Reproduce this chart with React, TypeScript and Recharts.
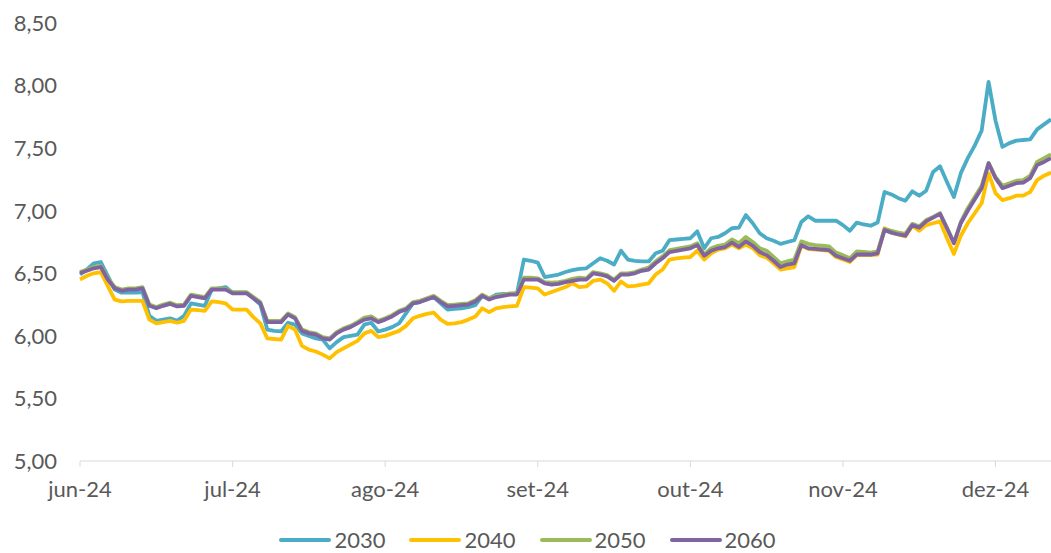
import { LineChart, Line, XAxis, YAxis, Legend } from 'recharts';

// month labels shown on the x axis (one every 22 business days)
const monthLabels = ['jun-24', 'jul-24', 'ago-24', 'set-24', 'out-24', 'nov-24', 'dez-24'];
const monthTicks = [0, 22, 44, 66, 88, 110, 132];
const yTicks = [5, 5.5, 6, 6.5, 7, 7.5, 8, 8.5];

const s2030 = [
  6.49, 6.53, 6.58, 6.59, 6.48, 6.37, 6.345, 6.345, 6.345, 6.35,
  6.16, 6.12, 6.13, 6.14, 6.12, 6.16, 6.26, 6.25, 6.24, 6.37,
  6.38, 6.39, 6.345, 6.345, 6.345, 6.3, 6.25, 6.05, 6.04, 6.035,
  6.105, 6.09, 6.02, 6.0, 5.98, 5.97, 5.9, 5.95, 5.99, 6.0,
  6.01, 6.09, 6.105, 6.035, 6.05, 6.07, 6.1, 6.18, 6.26, 6.27,
  6.29, 6.31, 6.26, 6.21, 6.215, 6.22, 6.23, 6.245, 6.32, 6.3,
  6.33, 6.335, 6.335, 6.34, 6.61, 6.6, 6.585, 6.47, 6.48, 6.49,
  6.51, 6.525, 6.535, 6.54, 6.58, 6.62, 6.6, 6.57, 6.68, 6.61,
  6.6, 6.595, 6.595, 6.66, 6.68, 6.765, 6.77, 6.775, 6.78, 6.835,
  6.7, 6.78, 6.79, 6.82, 6.86, 6.865, 6.965, 6.9, 6.82, 6.78,
  6.76, 6.735, 6.75, 6.765, 6.91, 6.955, 6.92, 6.92, 6.92, 6.92,
  6.885, 6.84, 6.905, 6.89, 6.88, 6.905, 7.15, 7.13, 7.1, 7.08,
  7.155, 7.12, 7.16, 7.31, 7.355, 7.23, 7.11, 7.3, 7.42, 7.52,
  7.64, 8.03, 7.72, 7.51, 7.54, 7.56, 7.565, 7.57, 7.65, 7.69,
  7.73,
];

const s2040 = [
  6.45, 6.48, 6.5, 6.51, 6.4, 6.29, 6.275, 6.28, 6.28, 6.28,
  6.13, 6.1, 6.11, 6.12, 6.105, 6.12, 6.21, 6.205, 6.2, 6.275,
  6.27, 6.26, 6.21, 6.21, 6.21, 6.15, 6.1, 5.98, 5.975, 5.97,
  6.08, 6.05, 5.92, 5.89, 5.875, 5.85, 5.82, 5.87, 5.9, 5.93,
  5.96, 6.02, 6.04, 5.99, 6.0, 6.02, 6.04, 6.08, 6.14, 6.16,
  6.175, 6.185, 6.13, 6.095, 6.1, 6.11, 6.13, 6.155, 6.22, 6.19,
  6.22, 6.23, 6.235, 6.24, 6.39, 6.385, 6.38, 6.33, 6.35, 6.37,
  6.39, 6.42, 6.39, 6.395, 6.44, 6.45, 6.42, 6.36, 6.435, 6.395,
  6.4, 6.41, 6.42, 6.49, 6.53, 6.61, 6.62, 6.625, 6.63, 6.68,
  6.61, 6.66, 6.69, 6.7, 6.73, 6.7, 6.73, 6.7, 6.645, 6.625,
  6.58, 6.53, 6.54, 6.55, 6.72, 6.695, 6.69, 6.685, 6.68, 6.63,
  6.61, 6.59, 6.645, 6.645, 6.645, 6.65, 6.86, 6.825, 6.81, 6.795,
  6.88, 6.84, 6.885, 6.9, 6.915, 6.78, 6.655, 6.8, 6.9, 6.98,
  7.06, 7.3, 7.14, 7.085, 7.1, 7.12, 7.12, 7.15, 7.245, 7.28,
  7.305,
];

const s2050 = [
  6.51, 6.53, 6.55, 6.56, 6.46, 6.39, 6.37, 6.38, 6.38, 6.39,
  6.25, 6.23, 6.25, 6.265, 6.245, 6.25, 6.33, 6.32, 6.31, 6.38,
  6.38, 6.375, 6.35, 6.35, 6.35, 6.31, 6.27, 6.12, 6.12, 6.12,
  6.18, 6.15, 6.05, 6.03, 6.02, 5.99, 5.98, 6.03, 6.06, 6.08,
  6.11, 6.145, 6.155, 6.12, 6.14, 6.165, 6.2, 6.22, 6.27, 6.28,
  6.3, 6.32, 6.28, 6.245, 6.25, 6.255, 6.26, 6.285, 6.33, 6.3,
  6.32, 6.33, 6.34, 6.34, 6.465, 6.465, 6.46, 6.43, 6.425, 6.43,
  6.44, 6.455, 6.465, 6.46, 6.51, 6.5, 6.485, 6.45, 6.5, 6.5,
  6.51, 6.53, 6.545, 6.595, 6.635, 6.685, 6.695, 6.705, 6.715, 6.74,
  6.65, 6.7, 6.72, 6.73, 6.77, 6.74, 6.79, 6.75, 6.7, 6.68,
  6.63, 6.58, 6.595, 6.61, 6.755, 6.735, 6.725, 6.72, 6.715, 6.665,
  6.645, 6.62, 6.675, 6.67, 6.665, 6.675, 6.855, 6.84, 6.825, 6.815,
  6.895, 6.875, 6.925, 6.95, 6.98, 6.865, 6.745, 6.91, 7.02, 7.11,
  7.2, 7.38, 7.27, 7.2, 7.22, 7.24, 7.245, 7.28, 7.39, 7.42,
  7.45,
];

const s2060 = [
  6.5, 6.52, 6.54, 6.55, 6.45, 6.38, 6.36, 6.37, 6.37, 6.38,
  6.24, 6.22, 6.24, 6.255, 6.235, 6.24, 6.32, 6.31, 6.3, 6.37,
  6.37, 6.37, 6.34, 6.34, 6.34, 6.3, 6.26, 6.11, 6.11, 6.11,
  6.17, 6.14, 6.04, 6.02, 6.01, 5.98, 5.97, 6.02, 6.05, 6.07,
  6.1, 6.13, 6.14, 6.11, 6.13, 6.155, 6.19, 6.21, 6.26, 6.27,
  6.29, 6.31, 6.27, 6.235, 6.24, 6.245, 6.25, 6.275, 6.32, 6.29,
  6.31, 6.32, 6.33, 6.33, 6.45, 6.45, 6.45, 6.42, 6.41, 6.415,
  6.43, 6.44, 6.45, 6.45, 6.5, 6.49, 6.475, 6.44, 6.49, 6.49,
  6.5, 6.52, 6.53, 6.58, 6.62, 6.67, 6.68, 6.69, 6.7, 6.725,
  6.64, 6.68, 6.7, 6.71, 6.745, 6.71, 6.755, 6.72, 6.67, 6.645,
  6.6, 6.55, 6.57, 6.58, 6.725, 6.7, 6.695, 6.69, 6.685, 6.64,
  6.62, 6.6, 6.65, 6.65, 6.65, 6.66, 6.845, 6.825, 6.81, 6.8,
  6.885, 6.865, 6.915, 6.945, 6.975, 6.86, 6.74, 6.9, 7.0, 7.09,
  7.18, 7.38, 7.26, 7.18, 7.2, 7.22, 7.225, 7.26, 7.365, 7.39,
  7.42,
];

const series = [
  { key: '2030', color: '#4BACC6' },
  { key: '2040', color: '#FFC000' },
  { key: '2050', color: '#9BBB59' },
  { key: '2060', color: '#8064A2' },
];

const data = s2030.map((v, i) => ({
  i,
  '2030': v,
  '2040': s2040[i],
  '2050': s2050[i],
  '2060': s2060[i],
}));

const FONT = 'Lato, "Open Sans", sans-serif';
const TEXT = '#595959';

const LegendContent = () => (
  <div style={{ display: 'flex', justifyContent: 'center', paddingTop: 18, paddingLeft: 28, fontFamily: FONT, lineHeight: 1 }}>
    {series.map((s) => (
      <div key={s.key} style={{ display: 'flex', alignItems: 'center', marginRight: 24 }}>
        <div style={{ width: 52, height: 4, borderRadius: 2, background: s.color, marginRight: 3 }} />
        <span style={{ fontSize: 22, color: TEXT }}>{s.key}</span>
      </div>
    ))}
  </div>
);

export default function App() {
  return (
    <div style={{ position: 'absolute', left: 0, top: 0, background: '#fff' }}>
      <LineChart width={1051} height={553} data={data} margin={{ top: 23, right: 0, bottom: 0, left: 0 }}>
        <XAxis
          dataKey="i"
          type="number"
          domain={[0, 140]}
          ticks={monthTicks}
          tickFormatter={(v: number) => monthLabels[monthTicks.indexOf(v)]}
          height={50}
          stroke="#D9D9D9"
          tickSize={6}
          tickMargin={14}
          tick={{ fontSize: 22, fill: TEXT, fontFamily: FONT }}
        />
        <YAxis
          domain={[5, 8.5]}
          ticks={yTicks}
          width={80}
          axisLine={false}
          tickLine={false}
          tickSize={0}
          tickMargin={23}
          tickFormatter={(v: number) => v.toFixed(2).replace('.', ',')}
          tick={{ fontSize: 22, fill: TEXT, fontFamily: FONT }}
        />
        <Legend verticalAlign="bottom" height={42} content={() => <LegendContent />} />
        {series.map((s) => (
          <Line
            key={s.key}
            dataKey={s.key}
            stroke={s.color}
            strokeWidth={3.8}
            dot={false}
            type="linear"
            strokeLinejoin="round"
            isAnimationActive={false}
          />
        ))}
      </LineChart>
    </div>
  );
}
